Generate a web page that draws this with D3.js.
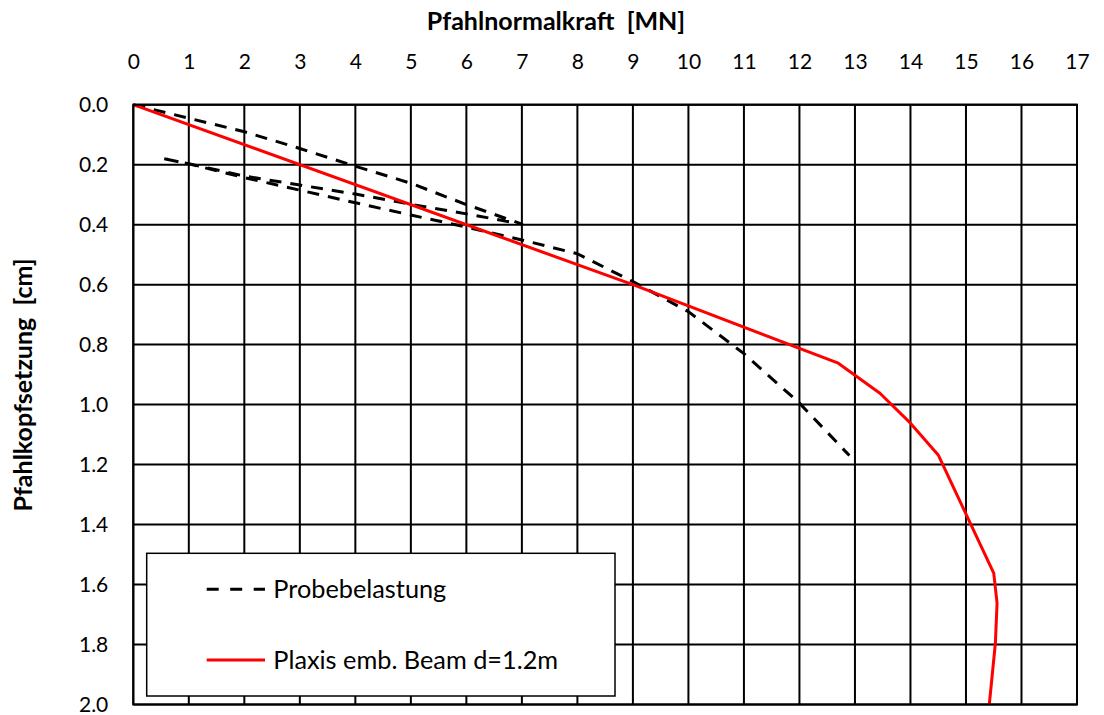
<!DOCTYPE html>
<html>
<head>
<meta charset="utf-8">
<script src="https://cdn.jsdelivr.net/npm/d3@7"></script>
<style>
  html, body { margin: 0; padding: 0; background: #fff; }
  svg { display: block; }
  text { font-family: Lato, "Open Sans", sans-serif; fill: #000; }
</style>
</head>
<body>
<svg id="chart" width="1104" height="715"></svg>
<script>
// ---- data ----
const xTicks = [0,1,2,3,4,5,6,7,8,9,10,11,12,13,14,15,16,17];
const yTicks = [0.0,0.2,0.4,0.6,0.8,1.0,1.2,1.4,1.6,1.8,2.0];

// Probebelastung (load test): force [MN], settlement [cm]
const testForce = [0, 1, 2, 3, 4, 5, 6, 7,
                   6, 5, 4, 3, 2, 1, 0.5,
                   1, 2, 3, 4, 5, 6, 7, 8, 9, 10, 11, 12, 12.9];
const testSettle = [0, 0.045, 0.09, 0.146, 0.205, 0.262, 0.333, 0.398,
                    0.364, 0.332, 0.298, 0.268, 0.238, 0.197, 0.178,
                    0.197, 0.243, 0.285, 0.327, 0.368, 0.408, 0.451, 0.497, 0.59, 0.69, 0.83, 0.995, 1.17];

// Plaxis embedded beam d=1.2m
const plaxisForce  = [0, 9, 12.7, 13.45, 14.0, 14.5, 15.5, 15.56, 15.53, 15.42];
const plaxisSettle = [0, 0.6, 0.862, 0.962, 1.062, 1.168, 1.562, 1.662, 1.795, 2.0];

const seriesNames = ["Probebelastung", "Plaxis emb. Beam d=1.2m"];
const xTitle = "Pfahlnormalkraft  [MN]";
const yTitle = "Pfahlkopfsetzung  [cm]";

// ---- drawing ----
const svg = d3.select("#chart");
const x = d3.scaleLinear().domain([0, 17]).range([133.3, 1077]);
const y = d3.scaleLinear().domain([0, 2]).range([104.7, 704.5]);

const grid = svg.append("g");
grid.selectAll("line.v").data(xTicks).join("line")
  .attr("x1", d => x(d)).attr("x2", d => x(d))
  .attr("y1", y(0)).attr("y2", y(2))
  .attr("stroke", "#000").attr("stroke-width", 2);
grid.selectAll("line.h").data(yTicks).join("line")
  .attr("y1", d => y(d)).attr("y2", d => y(d))
  .attr("x1", x(0)).attr("x2", x(17))
  .attr("stroke", "#000").attr("stroke-width", 2);

// axes
const xAxis = svg.append("g").attr("transform", `translate(0,${y(0)})`)
  .call(d3.axisTop(x).tickValues(xTicks).tickSize(0).tickPadding(36).tickFormat(d3.format("d")));
xAxis.select(".domain").remove();
xAxis.selectAll("text").style("font-size", "21px").style("font-family", "Lato, sans-serif");

const yAxis = svg.append("g").attr("transform", `translate(${x(0)},0)`)
  .call(d3.axisLeft(y).tickValues(yTicks).tickSize(0).tickPadding(25).tickFormat(d3.format(".1f")));
yAxis.select(".domain").remove();
yAxis.selectAll("text").style("font-size", "21px").style("font-family", "Lato, sans-serif");

// titles
svg.append("text").attr("x", 556).attr("y", 29.5).attr("text-anchor", "middle")
  .style("font-size", "25px").style("font-weight", "bold").style("white-space", "pre")
  .attr("xml:space", "preserve").text(xTitle);
svg.append("text").attr("transform", "translate(31.7,385) rotate(-90)").attr("text-anchor", "middle")
  .style("font-size", "25px").style("font-weight", "bold").style("white-space", "pre")
  .attr("xml:space", "preserve").text(yTitle);

// lines
const line = d3.line().x(d => x(d[0])).y(d => y(d[1]));
const testData = testForce.map((f, i) => [f, testSettle[i]]);
const plaxisData = plaxisForce.map((f, i) => [f, plaxisSettle[i]]);

svg.append("path").datum(testData).attr("d", line)
  .attr("fill", "none").attr("stroke", "#000").attr("stroke-width", 3)
  .attr("stroke-dasharray", "12,9").attr("stroke-linejoin", "round");
svg.append("path").datum(plaxisData).attr("d", line)
  .attr("fill", "none").attr("stroke", "#ff0000").attr("stroke-width", 3)
  .attr("stroke-linejoin", "round");

// plot border on top
svg.append("rect").attr("x", x(0)).attr("y", y(0))
  .attr("width", x(17) - x(0)).attr("height", y(2) - y(0))
  .attr("fill", "none").attr("stroke", "#000").attr("stroke-width", 2);

// legend
const lg = svg.append("g");
lg.append("rect").attr("x", 146.7).attr("y", 553.3).attr("width", 468.3).attr("height", 142.7)
  .attr("fill", "#fff").attr("stroke", "#000").attr("stroke-width", 1.5);
const legendItems = [
  { name: seriesNames[0], color: "#000", dash: "12,11.5", ly: 589.3 },
  { name: seriesNames[1], color: "#ff0000", dash: null, ly: 660 }
];
legendItems.forEach(it => {
  lg.append("line").attr("x1", 206.7).attr("x2", 265).attr("y1", it.ly).attr("y2", it.ly)
    .attr("stroke", it.color).attr("stroke-width", 3)
    .attr("stroke-dasharray", it.dash);
  lg.append("text").attr("x", 273.3).attr("y", it.ly).attr("dy", "0.35em")
    .style("font-size", "25.3px").text(it.name);
});
</script>
</body>
</html>
